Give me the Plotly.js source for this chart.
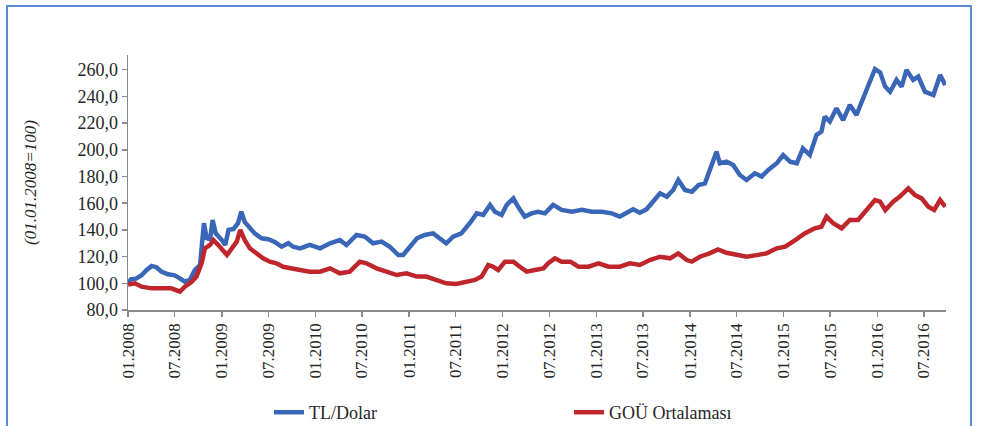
<!DOCTYPE html>
<html>
<head>
<meta charset="utf-8">
<script src="https://cdn.plot.ly/plotly-3.0.1.min.js"></script>
<style>
  html, body { margin: 0; padding: 0; background: #ffffff; }
  #wrap { position: relative; width: 981px; height: 426px; overflow: hidden; }
  #chart { width: 981px; height: 426px; }
  #frame { position: absolute; left: 6px; top: 5px; width: 966px; height: 440px;
           border: 2px solid #5B8AD0; pointer-events: none; box-sizing: border-box; }
</style>
</head>
<body>
<div id="wrap">
  <div id="chart"></div>
  <div id="frame"></div>
</div>
<script>
// ---- Data ----
const tlDates = ["2008-01-01","2008-01-12","2008-02-01","2008-02-23","2008-03-14","2008-04-02","2008-04-21","2008-05-10","2008-06-05","2008-07-01",
"2008-07-21","2008-08-10","2008-08-29","2008-09-18","2008-10-08","2008-10-23","2008-11-03","2008-11-16","2008-11-26","2008-12-08",
"2009-01-01","2009-01-14","2009-01-27","2009-02-15","2009-03-05","2009-03-18","2009-03-31","2009-04-20","2009-05-09","2009-06-05",
"2009-07-01","2009-07-26","2009-08-22","2009-09-17","2009-10-06","2009-11-02","2009-12-10","2010-01-19","2010-02-27","2010-04-06",
"2010-05-02","2010-06-10","2010-07-12","2010-08-14","2010-09-16","2010-10-18","2010-11-20","2010-12-09","2010-12-29","2011-02-01",
"2011-03-03","2011-04-05","2011-04-30","2011-05-26","2011-06-22","2011-07-24","2011-08-26","2011-09-22","2011-10-17","2011-11-13",
"2011-12-02","2011-12-28","2012-01-17","2012-02-12","2012-03-01","2012-03-27","2012-04-23","2012-05-18","2012-06-14","2012-07-16",
"2012-08-18","2012-09-27","2012-11-05","2012-12-14","2013-01-22","2013-03-01","2013-04-02","2013-04-28","2013-05-24","2013-06-19",
"2013-07-15","2013-08-10","2013-09-06","2013-10-02","2013-10-27","2013-11-16","2013-12-12","2014-01-08","2014-02-03","2014-02-28",
"2014-03-18","2014-04-14","2014-04-27","2014-05-23","2014-06-18","2014-07-14","2014-08-09","2014-09-11","2014-10-07","2014-11-02",
"2014-12-05","2014-12-30","2015-01-26","2015-02-21","2015-03-17","2015-04-13","2015-05-09","2015-05-28","2015-06-10","2015-06-30",
"2015-07-26","2015-08-21","2015-09-16","2015-10-12","2015-11-07","2015-12-03","2015-12-23","2016-01-12","2016-02-01","2016-02-20",
"2016-03-16","2016-04-05","2016-04-24","2016-05-20","2016-06-09","2016-07-05","2016-08-07","2016-09-02","2016-09-22"];
const tlValues = [100,103,103.5,106,110,113,112,108.7,106.7,106,
103.7,101.2,102.5,110,113.7,145,133.7,133,147.4,137.4,
132.4,128.7,140,140.6,145,153.6,146,141,137.4,133.7,
133,131,127.4,130,127.4,126.2,128.7,126.2,130,132.4,
128.7,136.2,135,130,131.2,127.4,121.2,121.2,126.2,133.7,
136.2,137.4,133.7,130,135,137.4,145,152.4,151.2,158.7,
153.6,151.2,158.7,163.6,157.4,150,152.4,153.6,152.4,158.7,
155,153.6,155,153.6,153.6,152.4,150,152.4,155.4,152.9,
155.4,161.2,167.4,164.9,169.9,177.4,169.9,168.6,173.6,174.9,
184.9,198.6,189.9,191.1,188.6,181.1,177.4,182.4,179.9,184.9,
189.9,196.1,191.1,189.9,201.1,196.1,211.1,213.6,224.8,221.1,
231.1,222.3,233.6,226.1,238.6,251,260.5,258,247.3,243.5,
252.3,247.3,259.8,252.3,254.8,243.5,241,256,248.5];

const gouDates = ["2008-01-01","2008-01-28","2008-02-23","2008-04-02","2008-05-10","2008-06-18","2008-07-21","2008-08-10","2008-09-05","2008-09-24",
"2008-10-14","2008-10-27","2008-11-16","2008-11-29","2008-12-18","2009-01-07","2009-01-21","2009-02-09","2009-02-28","2009-03-14",
"2009-03-31","2009-04-20","2009-05-16","2009-06-11","2009-07-07","2009-08-02","2009-08-28","2009-09-24","2009-11-02","2009-12-10",
"2010-01-19","2010-02-27","2010-04-06","2010-05-15","2010-06-23","2010-07-19","2010-08-27","2010-10-05","2010-11-14","2010-12-22",
"2011-02-01","2011-03-09","2011-04-17","2011-05-26","2011-07-04","2011-08-06","2011-09-15","2011-10-11","2011-11-06","2011-11-25",
"2011-12-15","2012-01-10","2012-02-12","2012-03-08","2012-04-04","2012-05-06","2012-06-08","2012-06-27","2012-07-23","2012-08-18",
"2012-09-21","2012-10-23","2012-12-01","2013-01-09","2013-02-17","2013-04-02","2013-05-11","2013-06-19","2013-07-28","2013-09-06",
"2013-10-15","2013-11-16","2013-12-19","2014-01-08","2014-02-08","2014-03-18","2014-04-20","2014-05-23","2014-07-01","2014-08-09",
"2014-09-18","2014-10-26","2014-12-05","2015-01-07","2015-02-15","2015-03-24","2015-05-02","2015-05-28","2015-06-17","2015-07-13",
"2015-08-15","2015-09-16","2015-10-18","2015-11-20","2015-12-23","2016-01-12","2016-02-01","2016-03-03","2016-03-29","2016-05-01",
"2016-05-27","2016-06-22","2016-07-18","2016-08-10","2016-09-02","2016-09-22"];
const gouValues = [99,100,97.5,96.2,96.2,96.2,93.7,97.5,101.2,105,
115,126.2,128.7,132.4,128.7,123.7,121.2,126.2,131.2,140,
132.4,126.2,122.5,118.7,116.2,115,112.4,111.2,110,108.7,
108.7,111.2,107.5,108.7,116.2,115,111.2,108.7,106.2,107.5,
105,105,102.5,100,99.5,101.2,102.5,105,113.7,112.4,
110,116.2,116.2,112.4,108.7,110,111.2,115,118.7,116.2,
116.2,112.4,112.4,115,112.4,112.4,115,113.7,117.4,119.9,
118.7,122.4,117.4,116.2,119.9,122.4,125.4,122.9,121.1,119.9,
121.1,122.4,126.2,127.4,132.4,137.4,141.2,142.4,150,145,
141.2,147.4,147.4,154.9,162.4,161.2,154.9,161.2,164.9,171.1,
166.1,163.6,157.4,154.9,162.4,157.4];

const seriesNames = ["TL/Dolar", "GOÜ Ortalaması"];
const xTickVals = ["2008-01-01","2008-07-01","2009-01-01","2009-07-01","2010-01-01","2010-07-01","2011-01-01","2011-07-01","2012-01-01",
"2012-07-01","2013-01-01","2013-07-01","2014-01-01","2014-07-01","2015-01-01","2015-07-01","2016-01-01","2016-07-01"];
const xTickText = ["01.2008","07.2008","01.2009","07.2009","01.2010","07.2010","01.2011","07.2011","01.2012",
"07.2012","01.2013","07.2013","01.2014","07.2014","01.2015","07.2015","01.2016","07.2016"];
const yTickVals = [80,100,120,140,160,180,200,220,240,260];
const yTitle = "(01.01.2008=100)";

// ---- Chart ----
const serif = "Liberation Serif";
const ink = "#262626";
const traces = [
  { x: tlDates, y: tlValues, name: seriesNames[0], type: "scatter", mode: "lines",
    line: { color: "#3A66B8", width: 4.5 } },
  { x: gouDates, y: gouValues, name: seriesNames[1], type: "scatter", mode: "lines",
    line: { color: "#BF262C", width: 4.5 } }
];

const layout = {
  width: 981, height: 426,
  margin: { l: 128, r: 35, t: 55, b: 116, autoexpand: false },
  paper_bgcolor: "#ffffff", plot_bgcolor: "#ffffff",
  separators: ",.",
  font: { family: serif, size: 18, color: ink },
  showlegend: true,
  legend: {
    orientation: "h", x: 0.1724, xanchor: "left", y: -0.402, yanchor: "middle",
    entrywidth: 255, entrywidthmode: "pixels",
    font: { family: serif, size: 18, color: ink },
    bgcolor: "rgba(0,0,0,0)"
  },
  xaxis: {
    type: "date", automargin: false,
    range: ["2008-01-01", "2016-09-25"],
    tickmode: "array", tickvals: xTickVals, ticktext: xTickText,
    tickangle: -90,
    ticks: "outside", ticklen: 5, tickcolor: "#8a8a8a", tickwidth: 1.5,
    showline: true, linecolor: "#8a8a8a", linewidth: 1.5,
    showgrid: false, zeroline: false,
    tickfont: { family: serif, size: 17, color: ink }
  },
  yaxis: {
    automargin: false,
    range: [80, 271],
    tickmode: "array", tickvals: yTickVals, tickformat: ".1f",
    ticks: "outside", ticklen: 5, tickcolor: "#8a8a8a", tickwidth: 1.5,
    showline: true, linecolor: "#8a8a8a", linewidth: 1.5,
    showgrid: false, zeroline: false,
    tickfont: { family: serif, size: 18, color: ink },
    title: { text: "<i>" + yTitle + "</i>", font: { family: serif, size: 17, color: ink }, standoff: 36 }
  }
};

Plotly.newPlot("chart", traces, layout, { displayModeBar: false, staticPlot: true });
</script>
</body>
</html>
